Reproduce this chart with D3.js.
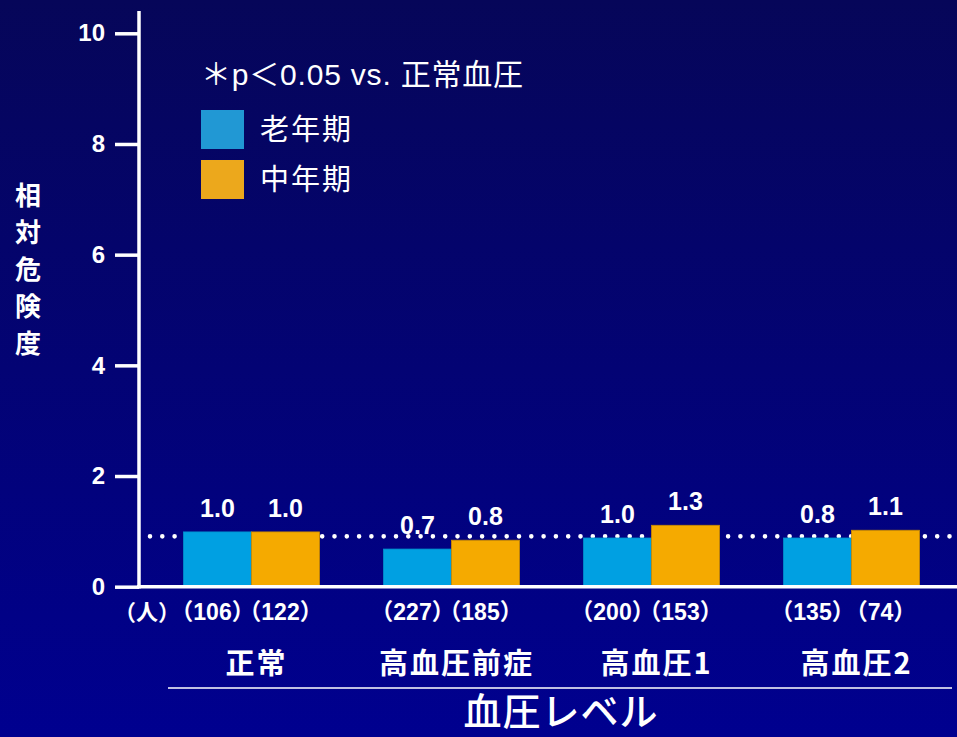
<!DOCTYPE html>
<html>
<head>
<meta charset="utf-8">
<script src="https://cdn.jsdelivr.net/npm/d3@7"></script>
<style>
  body { margin: 0; background: #000080; }
  svg { display: block; }
  text { fill: #fff; }
</style>
</head>
<body>
<div id="chart"></div>
<script>
// data
const categories = ["正常", "高血圧前症", "高血圧1", "高血圧2"];
const seriesNames = ["老年期", "中年期"];
const elderly = [0.99, 0.68, 0.88, 0.88];      // bar heights as drawn
const middle = [0.99, 0.84, 1.11, 1.02];
const elderlyLabels = ["1.0", "0.7", "1.0", "0.8"];
const middleLabels = ["1.0", "0.8", "1.3", "1.1"];
const elderlyN = ["106", "227", "200", "135"];
const middleN = ["122", "185", "153", "74"];
const yTicks = [0, 2, 4, 6, 8, 10];
const refValue = 0.91;
const colors = ["#00a0e2", "#f5aa00"];
const legendColors = ["#2198d4", "#eca81c"];

const W = 957, H = 737;
const latin = "'Liberation Sans', Arial, 'Noto Sans CJK JP', sans-serif";
const jp = "'Noto Sans CJK JP', sans-serif";

const svg = d3.select("#chart").append("svg")
  .attr("width", W).attr("height", H);

const grad = svg.append("defs").append("linearGradient")
  .attr("id", "bg").attr("x1", 0).attr("y1", 0).attr("x2", 0).attr("y2", 1);
grad.append("stop").attr("offset", "0%").attr("stop-color", "#060659");
grad.append("stop").attr("offset", "100%").attr("stop-color", "#00008f");
svg.append("rect").attr("width", W).attr("height", H).attr("fill", "url(#bg)");

const y = d3.scaleLinear().domain([0, 10]).range([586.7, 33.3]);
const x = d3.scaleBand().domain(categories).range([151.5, 951.5])
  .paddingInner(0.32).paddingOuter(0.16);
const xs = d3.scaleBand().domain(seriesNames).range([0, x.bandwidth()]);

// reference dotted line
svg.append("line")
  .attr("x1", 150).attr("x2", W + 5)
  .attr("y1", y(refValue)).attr("y2", y(refValue))
  .attr("stroke", "#fff").attr("stroke-width", 4.6)
  .attr("stroke-linecap", "round")
  .attr("stroke-dasharray", "0 12.3");

// bars
const rows = categories.map((c, i) => ({
  cat: c,
  vals: [
    { s: seriesNames[0], v: elderly[i], lab: elderlyLabels[i], n: elderlyN[i] },
    { s: seriesNames[1], v: middle[i], lab: middleLabels[i], n: middleN[i] }
  ]
}));

const g = svg.selectAll("g.grp").data(rows).enter().append("g")
  .attr("class", "grp")
  .attr("transform", d => "translate(" + x(d.cat) + ",0)");

g.selectAll("rect").data(d => d.vals).enter().append("rect")
  .attr("x", d => xs(d.s))
  .attr("width", xs.bandwidth())
  .attr("y", d => y(d.v))
  .attr("height", d => y(0) - y(d.v))
  .attr("fill", (d, i) => colors[i])
  .attr("stroke", (d, i) => i ? "#c98a00" : "#0090cc")
  .attr("stroke-width", 0.8);

g.selectAll("text.val").data(d => d.vals).enter().append("text")
  .attr("class", "val")
  .attr("x", d => xs(d.s) + xs.bandwidth() / 2)
  .attr("y", d => y(d.v) - 15)
  .attr("text-anchor", "middle")
  .style("font", "bold 25px " + latin)
  .text(d => d.lab);

g.selectAll("text.n").data(d => d.vals).enter().append("text")
  .attr("class", "n")
  .attr("x", d => xs(d.s) + xs.bandwidth() / 2 - 5)
  .attr("y", 620)
  .attr("text-anchor", "middle")
  .style("font", "bold 23px " + latin)
  .style("font-feature-settings", "'halt' 1")
  .text(d => "（" + d.n + "）");

svg.append("text")
  .attr("x", 147).attr("y", 620)
  .attr("text-anchor", "middle")
  .style("font", "bold 22px " + latin)
  .style("font-feature-settings", "'halt' 1")
  .text("（人）");

g.append("text")
  .attr("x", x.bandwidth() / 2 + 5)
  .attr("y", 674)
  .attr("text-anchor", "middle")
  .style("font", "bold 29px " + jp)
  .style("letter-spacing", "2px")
  .text(d => d.cat);

// axes
const yAxis = d3.axisLeft(y).tickValues(yTicks).tickSize(24).tickPadding(10);
const ay = svg.append("g").attr("transform", "translate(139,0)").call(yAxis);
ay.select(".domain").remove();
ay.selectAll("line").attr("stroke", "#fff").attr("stroke-width", 3.5);
ay.selectAll("text")
  .attr("fill", "#fff")
  .style("font", "bold 24px 'Liberation Sans', Arial, sans-serif");

svg.append("line").attr("x1", 139).attr("x2", 139)
  .attr("y1", 11).attr("y2", 588.5)
  .attr("stroke", "#fff").attr("stroke-width", 3.5);
svg.append("line").attr("x1", 137).attr("x2", W)
  .attr("y1", y(0)).attr("y2", y(0))
  .attr("stroke", "#fff").attr("stroke-width", 3.5);

// y title, stacked vertically
svg.append("g").selectAll("text").data("相対危険度".split("")).enter()
  .append("text")
  .attr("x", 28).attr("y", (d, i) => 205 + i * 37)
  .attr("text-anchor", "middle")
  .style("font", "bold 26px " + jp)
  .text(d => d);

// x title
svg.append("line").attr("x1", 168).attr("x2", 952)
  .attr("y1", 688).attr("y2", 688)
  .attr("stroke", "#fff").attr("stroke-width", 1.6);
svg.append("text")
  .attr("x", 561).attr("y", 725)
  .attr("text-anchor", "middle")
  .style("font", "500 38px " + jp)
  .style("letter-spacing", "1px")
  .text("血圧レベル");

// legend
svg.append("text")
  .attr("x", 201).attr("y", 85)
  .style("font", "30px " + latin)
  .style("letter-spacing", "0.8px")
  .text("＊p＜0.05 vs. 正常血圧");

const leg = svg.selectAll("g.leg").data(seriesNames).enter().append("g")
  .attr("class", "leg")
  .attr("transform", (d, i) => "translate(201," + (110 + i * 50) + ")");
leg.append("rect").attr("width", 43).attr("height", 39)
  .attr("fill", (d, i) => legendColors[i]);
leg.append("text").attr("x", 59).attr("y", 30)
  .style("font", "29px " + jp)
  .style("letter-spacing", "2px")
  .text(d => d);
</script>
</body>
</html>
